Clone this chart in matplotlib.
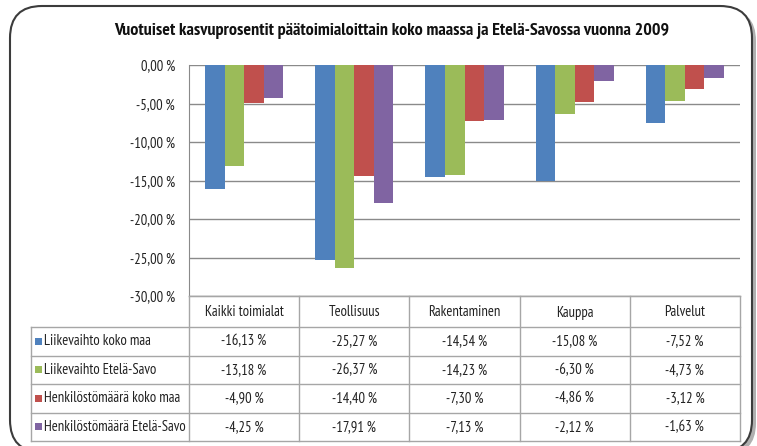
import matplotlib
matplotlib.use("Agg")
import matplotlib.pyplot as plt
from matplotlib.patches import FancyBboxPatch, Rectangle
import numpy as np

# ---- data ----
categories = ["Kaikki toimialat", "Teollisuus", "Rakentaminen", "Kauppa", "Palvelut"]
series_names = ["Liikevaihto koko maa", "Liikevaihto Etelä-Savo",
                "Henkilöstömäärä koko maa", "Henkilöstömäärä Etelä-Savo"]
liikevaihto_koko_maa = [-16.13, -25.27, -14.54, -15.08, -7.52]
liikevaihto_etela_savo = [-13.18, -26.37, -14.23, -6.30, -4.73]
henkilosto_koko_maa = [-4.90, -14.40, -7.30, -4.86, -3.12]
henkilosto_etela_savo = [-4.25, -17.91, -7.13, -2.12, -1.63]
y_ticks = [0, -5, -10, -15, -20, -25, -30]
title = "Vuotuiset kasvuprosentit päätoimialoittain koko maassa ja Etelä-Savossa vuonna 2009"

series = [liikevaihto_koko_maa, liikevaihto_etela_savo, henkilosto_koko_maa, henkilosto_etela_savo]
colors = ["#4F81BD", "#9BBB59", "#C0504D", "#8064A2"]

def pct(v):
    return f"{v:.2f}".replace(".", ",") + "\u2009%"

plt.rcParams['font.family'] = ['PT Sans Narrow', 'DejaVu Sans']

W, H = 757, 446
fig = plt.figure(figsize=(W / 100, H / 100), dpi=100)
fig.patch.set_facecolor("white")

def fx(px):
    return px / W

def fy(py):
    return 1 - py / H

# ---- background frame ----
bg = fig.add_axes([0, 0, 1, 1])
bg.set_xlim(0, W)
bg.set_ylim(H, 0)
bg.axis("off")
shadow = FancyBboxPatch((13, 9), 743, 446, boxstyle="round,pad=0,rounding_size=32",
                        fc="#b0b0b0", ec="none")
bg.add_patch(shadow)
frame = FancyBboxPatch((10, 6), 742, 446, boxstyle="round,pad=0,rounding_size=32",
                       fc="white", ec="#3c3c3c", lw=1.5)
bg.add_patch(frame)
bg.text(392, 31, title, ha="center", va="center", fontsize=13, fontweight="bold",
        color="#111111")

# ---- bar axes ----
left_px, right_px, top_px, bot_px = 189, 740, 65, 296
ax = fig.add_axes([fx(left_px), fy(bot_px), fx(right_px) - fx(left_px), fy(top_px) - fy(bot_px)])
ax.set_xlim(-0.5, len(categories) - 0.5)
ax.set_ylim(-30, 0)
x = np.arange(len(categories))
bw = 0.177
for i, (vals, c) in enumerate(zip(series, colors)):
    ax.bar(x + (i - 1.5) * bw, vals, width=bw, color=c, zorder=3, label=series_names[i])
ax.set_yticks(y_ticks)
ax.set_yticklabels([pct(v) for v in y_ticks], fontsize=10.5, color="#222222")
ax.tick_params(axis="y", length=0, pad=10)
ax.set_xticks([])
ax.grid(axis="y", color="#8a8a8a", lw=1, zorder=0)
for s in ["top", "right"]:
    ax.spines[s].set_visible(False)
ax.spines["left"].set_color("#8a8a8a")
ax.spines["bottom"].set_color("#8a8a8a")
ax.patch.set_alpha(0)

# ---- data table ----
tbl_top, tbl_bot = 296, 441
tax = fig.add_axes([fx(left_px), fy(tbl_bot), fx(right_px) - fx(left_px), fy(tbl_top) - fy(tbl_bot)])
tax.set_xlim(-0.5, len(categories) - 0.5)
tax.set_ylim(tbl_bot, tbl_top)
tax.axis("off")
px_per_unit = (right_px - left_px) / len(categories)
label_left = -0.5 - (left_px - 31) / px_per_unit
row_edges = [296, 327, 355.5, 384, 412.5, 441]
lc = "#a6a6a6"
tax.plot([-0.5, len(categories) - 0.5], [row_edges[0]] * 2, color=lc, lw=1, clip_on=False)
for ye in row_edges[1:]:
    tax.plot([label_left, len(categories) - 0.5], [ye, ye], color=lc, lw=1, clip_on=False)
tax.plot([label_left, label_left], [row_edges[1], row_edges[-1]], color=lc, lw=1, clip_on=False)
for k in range(len(categories) + 1):
    xe = k - 0.5
    tax.plot([xe, xe], [row_edges[0], row_edges[-1]], color=lc, lw=1, clip_on=False)
for k, cat in enumerate(categories):
    tax.text(k, (row_edges[0] + row_edges[1]) / 2 + 1, cat, ha="center", va="center",
             fontsize=10.5, color="#222222")
for r, (name, vals, c) in enumerate(zip(series_names, series, colors)):
    yc = (row_edges[r + 1] + row_edges[r + 2]) / 2
    sq = 7 / px_per_unit
    tax.add_patch(Rectangle((label_left + 4 / px_per_unit, yc - 3.5), sq, 7, fc=c, ec="none",
                            clip_on=False))
    tax.text(label_left + 13 / px_per_unit, yc, name, ha="left", va="center",
             fontsize=10.5, color="#222222", clip_on=False)
    for k, v in enumerate(vals):
        tax.text(k, yc, pct(v), ha="center", va="center", fontsize=10.5, color="#222222")

fig.savefig("out.png", dpi=100, facecolor="white")
